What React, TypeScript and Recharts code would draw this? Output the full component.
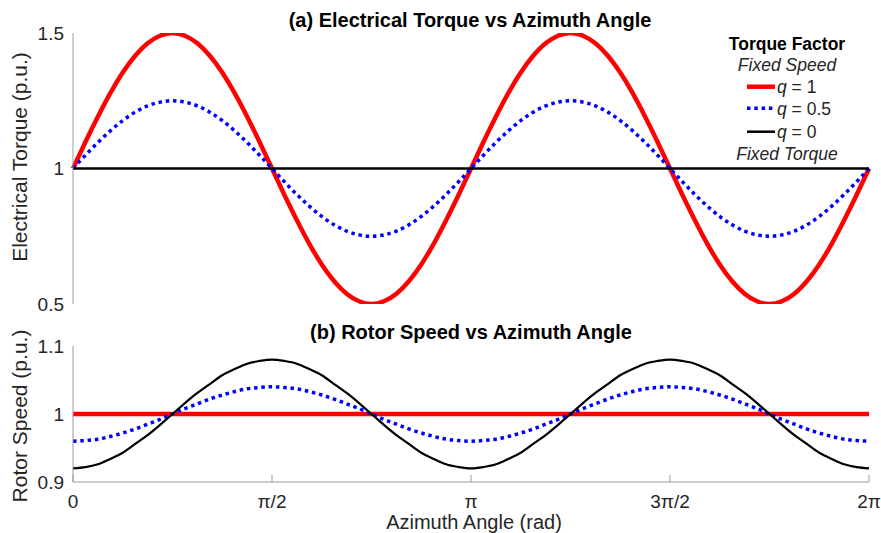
import React from 'react';
import { LineChart, Line, XAxis, YAxis } from 'recharts';

// Azimuth angle samples: index k means angle k·π/32 (0 … 2π)
const xTicks = [0, 16, 32, 48, 64];
const xTickLabels = ['0', 'π/2', 'π', '3π/2', '2π'];

// (a) Electrical torque (p.u.)
const torqueQ1 = [
  1, 1.098, 1.191, 1.278, 1.354, 1.416, 1.462, 1.49, 1.5, 1.49, 1.462, 1.416, 1.354, 1.278, 1.191, 1.098,
  1, 0.902, 0.809, 0.722, 0.646, 0.584, 0.538, 0.51, 0.5, 0.51, 0.538, 0.584, 0.646, 0.722, 0.809, 0.902,
  1, 1.098, 1.191, 1.278, 1.354, 1.416, 1.462, 1.49, 1.5, 1.49, 1.462, 1.416, 1.354, 1.278, 1.191, 1.098,
  1, 0.902, 0.809, 0.722, 0.646, 0.584, 0.538, 0.51, 0.5, 0.51, 0.538, 0.584, 0.646, 0.722, 0.809, 0.902,
  1,
];
const torqueQ05 = [
  1, 1.049, 1.096, 1.139, 1.177, 1.208, 1.231, 1.245, 1.25, 1.245, 1.231, 1.208, 1.177, 1.139, 1.096, 1.049,
  1, 0.951, 0.904, 0.861, 0.823, 0.792, 0.769, 0.755, 0.75, 0.755, 0.769, 0.792, 0.823, 0.861, 0.904, 0.951,
  1, 1.049, 1.096, 1.139, 1.177, 1.208, 1.231, 1.245, 1.25, 1.245, 1.231, 1.208, 1.177, 1.139, 1.096, 1.049,
  1, 0.951, 0.904, 0.861, 0.823, 0.792, 0.769, 0.755, 0.75, 0.755, 0.769, 0.792, 0.823, 0.861, 0.904, 0.951,
  1,
];
const torqueQ0 = [
  1, 1, 1, 1, 1, 1, 1, 1, 1, 1, 1, 1, 1, 1, 1, 1,
  1, 1, 1, 1, 1, 1, 1, 1, 1, 1, 1, 1, 1, 1, 1, 1,
  1, 1, 1, 1, 1, 1, 1, 1, 1, 1, 1, 1, 1, 1, 1, 1,
  1, 1, 1, 1, 1, 1, 1, 1, 1, 1, 1, 1, 1, 1, 1, 1,
  1,
];

// (b) Rotor speed (p.u.)
const speedQ1 = [
  1, 1, 1, 1, 1, 1, 1, 1, 1, 1, 1, 1, 1, 1, 1, 1,
  1, 1, 1, 1, 1, 1, 1, 1, 1, 1, 1, 1, 1, 1, 1, 1,
  1, 1, 1, 1, 1, 1, 1, 1, 1, 1, 1, 1, 1, 1, 1, 1,
  1, 1, 1, 1, 1, 1, 1, 1, 1, 1, 1, 1, 1, 1, 1, 1,
  1,
];
const speedQ05 = [
  0.96, 0.961, 0.963, 0.967, 0.972, 0.978, 0.985, 0.992, 1, 1.008, 1.015, 1.022, 1.028, 1.033, 1.037, 1.039,
  1.04, 1.039, 1.037, 1.033, 1.028, 1.022, 1.015, 1.008, 1, 0.992, 0.985, 0.978, 0.972, 0.967, 0.963, 0.961,
  0.96, 0.961, 0.963, 0.967, 0.972, 0.978, 0.985, 0.992, 1, 1.008, 1.015, 1.022, 1.028, 1.033, 1.037, 1.039,
  1.04, 1.039, 1.037, 1.033, 1.028, 1.022, 1.015, 1.008, 1, 0.992, 0.985, 0.978, 0.972, 0.967, 0.963, 0.961,
  0.96,
];
const speedQ0 = [
  0.92, 0.922, 0.926, 0.934, 0.943, 0.956, 0.969, 0.984, 1, 1.016, 1.031, 1.044, 1.057, 1.066, 1.074, 1.078,
  1.08, 1.078, 1.074, 1.066, 1.057, 1.044, 1.031, 1.016, 1, 0.984, 0.969, 0.956, 0.943, 0.934, 0.926, 0.922,
  0.92, 0.922, 0.926, 0.934, 0.943, 0.956, 0.969, 0.984, 1, 1.016, 1.031, 1.044, 1.057, 1.066, 1.074, 1.078,
  1.08, 1.078, 1.074, 1.066, 1.057, 1.044, 1.031, 1.016, 1, 0.984, 0.969, 0.956, 0.943, 0.934, 0.926, 0.922,
  0.92,
];

const torqueTicks = [0.5, 1, 1.5];
const speedTicks = [0.9, 1, 1.1];

const torqueData = torqueQ1.map((v, i) => ({ k: i, q1: v, q05: torqueQ05[i], q0: torqueQ0[i] }));
const speedData = speedQ1.map((v, i) => ({ k: i, q1: v, q05: speedQ05[i], q0: speedQ0[i] }));

const FONT = '"Liberation Sans", Arial, Helvetica, sans-serif';
const BOX = '#9a9a9a';
const TXT = '#262626';
const RED = '#ff0000';
const BLUE = '#0000ff';

const makeBottomTick = (margin: number, withLabel: boolean) => (props: any) => {
  const { x, y, payload } = props;
  const axisY = y - margin;
  const idx = xTicks.indexOf(payload.value);
  return (
    <g>
      <line x1={x} x2={x} y1={axisY} y2={axisY - 7} stroke={BOX} strokeWidth={1} />
      {withLabel && (
        <text x={x} y={y} dy="0.71em" textAnchor="middle" fontSize={19} fill={TXT} fontFamily={FONT}>
          {xTickLabels[idx]}
        </text>
      )}
    </g>
  );
};

const TopTick = (props: any) => {
  const { x, y } = props;
  return <line x1={x} x2={x} y1={y} y2={y + 7} stroke={BOX} strokeWidth={1} />;
};

const yTickStyle = { fill: TXT, fontSize: 19, fontFamily: FONT };

function Panel(props: {
  data: any[];
  domain: [number, number];
  ticks: number[];
  height: number;
  margin: any;
  bottomHeight: number;
  bottomMargin: number;
  withLabels: boolean;
  blackWidth: number;
}) {
  const { data, domain, ticks, height, margin, bottomHeight, bottomMargin, withLabels, blackWidth } = props;
  return (
    <LineChart width={881} height={height} data={data} margin={margin}>
      <XAxis
        xAxisId="bottom"
        dataKey="k"
        type="number"
        domain={[0, 64]}
        ticks={xTicks}
        height={bottomHeight}
        tickSize={0}
        tickMargin={bottomMargin}
        tickLine={false}
        axisLine={{ stroke: BOX, strokeWidth: 1 }}
        tick={makeBottomTick(bottomMargin, withLabels)}
        interval={0}
      />
      <XAxis
        xAxisId="top"
        orientation="top"
        dataKey="k"
        type="number"
        domain={[0, 64]}
        ticks={xTicks}
        height={0}
        tickSize={0}
        tickMargin={0}
        tickLine={false}
        axisLine={{ stroke: BOX, strokeWidth: 1 }}
        tick={TopTick}
        interval={0}
      />
      <YAxis
        yAxisId="left"
        type="number"
        domain={domain}
        ticks={ticks}
        width={73}
        tickSize={0}
        tickMargin={9}
        tickLine={false}
        axisLine={{ stroke: BOX, strokeWidth: 1 }}
        tick={yTickStyle}
        interval={0}
        allowDataOverflow
      />
      <YAxis
        yAxisId="right"
        orientation="right"
        type="number"
        domain={domain}
        ticks={ticks}
        width={0}
        tick={false}
        tickLine={false}
        axisLine={{ stroke: BOX, strokeWidth: 1 }}
        allowDataOverflow
      />
      <Line
        xAxisId="bottom"
        yAxisId="left"
        dataKey="q1"
        type="natural"
        stroke={RED}
        strokeWidth={4.5}
        dot={false}
        isAnimationActive={false}
      />
      <Line
        xAxisId="bottom"
        yAxisId="left"
        dataKey="q05"
        type="natural"
        stroke={BLUE}
        strokeWidth={3.5}
        strokeDasharray="3.5 3.8"
        dot={false}
        isAnimationActive={false}
      />
      <Line
        xAxisId="bottom"
        yAxisId="left"
        dataKey="q0"
        type="natural"
        stroke="#000000"
        strokeWidth={blackWidth}
        dot={false}
        isAnimationActive={false}
      />
    </LineChart>
  );
}

export default function App() {
  return (
    <div
      style={{
        position: 'absolute',
        left: 0,
        top: 0,
        width: 881,
        height: 533,
        background: '#ffffff',
        fontFamily: FONT,
        overflow: 'hidden',
      }}
    >
      <div style={{ position: 'absolute', left: 0, top: 0 }}>
        <Panel
          data={torqueData}
          domain={[0.5, 1.5]}
          ticks={torqueTicks}
          height={320}
          margin={{ top: 33, right: 12, bottom: 16, left: 0 }}
          bottomHeight={0}
          bottomMargin={0}
          withLabels={false}
          blackWidth={2.5}
        />
      </div>
      <div style={{ position: 'absolute', left: 0, top: 330 }}>
        <Panel
          data={speedData}
          domain={[0.9, 1.1]}
          ticks={speedTicks}
          height={203}
          margin={{ top: 16, right: 12, bottom: 0, left: 0 }}
          bottomHeight={51}
          bottomMargin={13}
          withLabels={true}
          blackWidth={2.2}
        />
      </div>
      <svg
        width={881}
        height={533}
        style={{ position: 'absolute', left: 0, top: 0, pointerEvents: 'none' }}
        fontFamily={FONT}
      >
        <text x={470} y={27} textAnchor="middle" fontSize={20} fontWeight="bold" fill="#000">
          (a) Electrical Torque vs Azimuth Angle
        </text>
        <text x={471} y={339} textAnchor="middle" fontSize={20} fontWeight="bold" fill="#000">
          (b) Rotor Speed vs Azimuth Angle
        </text>
        <text transform="translate(27,157) rotate(-90)" textAnchor="middle" fontSize={21} fill={TXT}>
          Electrical Torque (p.u.)
        </text>
        <text transform="translate(27,416) rotate(-90)" textAnchor="middle" fontSize={21} fill={TXT}>
          Rotor Speed (p.u.)
        </text>
        <text x={474} y={529} textAnchor="middle" fontSize={20} fill={TXT}>
          Azimuth Angle (rad)
        </text>

        {/* Legend */}
        <text x={787} y={50} textAnchor="middle" fontSize={17.5} fontWeight="bold" fill="#000">
          Torque Factor
        </text>
        <text x={787} y={71} textAnchor="middle" fontSize={17.5} fontStyle="italic" fill={TXT}>
          Fixed Speed
        </text>
        <line x1={747} x2={775} y1={86.7} y2={86.7} stroke={RED} strokeWidth={4.5} />
        <text x={777} y={93} fontSize={17.5} fill={TXT}>
          <tspan fontStyle="italic">q</tspan> = 1
        </text>
        <line x1={747} x2={775} y1={108.3} y2={108.3} stroke={BLUE} strokeWidth={3.5} strokeDasharray="3.5 3.8" />
        <text x={777} y={115} fontSize={17.5} fill={TXT}>
          <tspan fontStyle="italic">q</tspan> = 0.5
        </text>
        <line x1={747} x2={775} y1={131.7} y2={131.7} stroke="#000" strokeWidth={2.5} />
        <text x={777} y={138} fontSize={17.5} fill={TXT}>
          <tspan fontStyle="italic">q</tspan> = 0
        </text>
        <text x={787} y={160} textAnchor="middle" fontSize={17.5} fontStyle="italic" fill={TXT}>
          Fixed Torque
        </text>
      </svg>
    </div>
  );
}
